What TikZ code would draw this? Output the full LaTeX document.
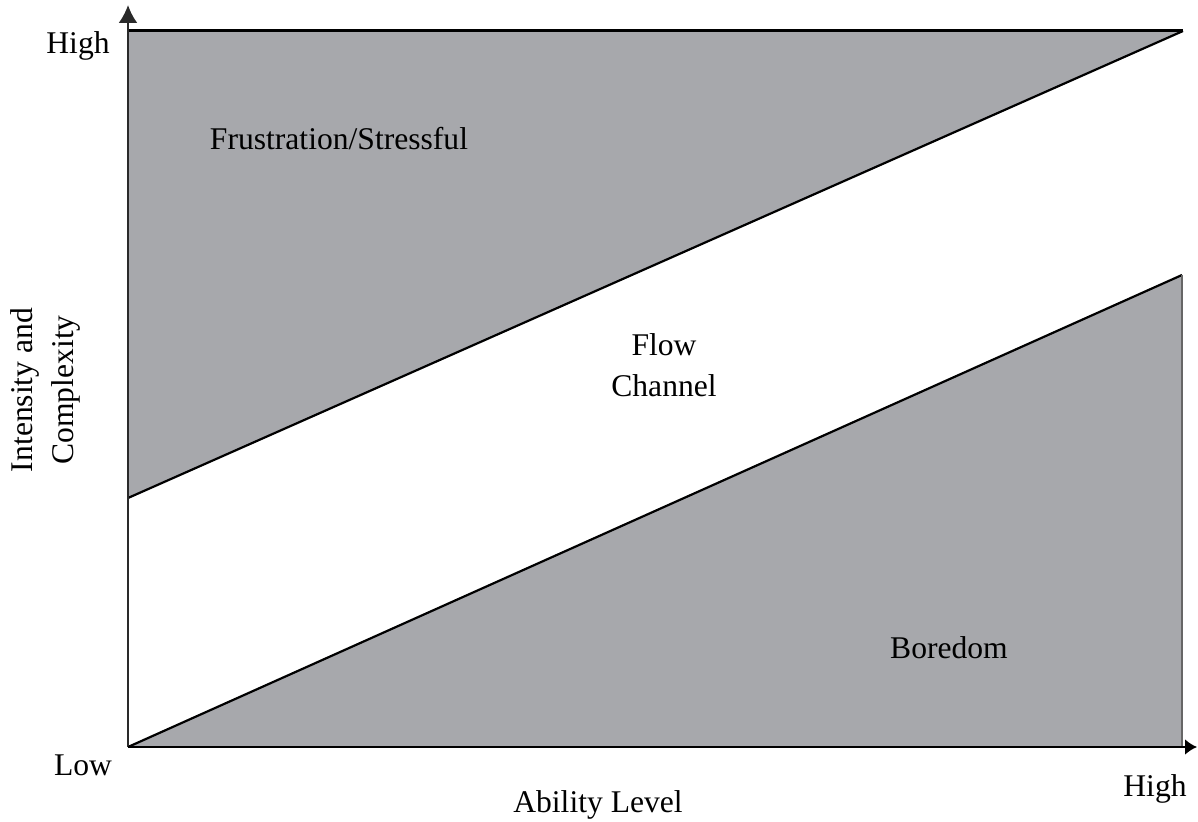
\documentclass[tikz,border=0pt]{standalone}
\usepackage{fontspec}
\setmainfont{Liberation Serif}
\usetikzlibrary{arrows.meta}
\definecolor{zonegray}{HTML}{A7A8AC}
\definecolor{axisdark}{HTML}{2A2A2A}
\begin{document}
\begin{tikzpicture}[x=0.5pt,y=-0.5pt,
  lbl/.style={inner sep=0pt,font=\fontsize{15.8pt}{20.5pt}\selectfont,align=center},
  zone/.style={fill=zonegray,draw=none},
  edge/.style={line width=1.1pt,black},
  axisline/.style={line width=1.2pt,axisdark},
]
\useasboundingbox (0,0) rectangle (1198,822);
% key points
\coordinate (O) at (128,747);
\coordinate (ytip) at (128,5);
\coordinate (xtip) at (1197,747);
\coordinate (TL) at (128,31);
\coordinate (TR) at (1183,31);
\coordinate (ML) at (128,498);
\coordinate (BR) at (1182,275);
\coordinate (BB) at (1182,747);
% shaded zones
\fill[zone] (TL) -- (TR) -- (ML) -- cycle;
\fill[zone] (O) -- (BR) -- (BB) -- cycle;
% zone borders
\draw[edge,line width=1.5pt] (TL) -- (TR);
\draw[edge] (TR) -- (ML);
\draw[edge] (O) -- (BR);
\draw[line width=1.1pt,gray!80!black] (BR) -- (BB);
% axes
\draw[axisline,-{Latex[length=9pt,width=9.5pt]}] (O) -- (ytip);
\draw[axisline,black,line width=1.4pt,-{Latex[length=6pt,width=8pt]}] (O) -- (xtip);
% labels
\node[lbl] (yhigh) at (78,46) {High};
\node[lbl] (ylow) at (83,765) {Low};
\node[lbl] (xhigh) at (1155,789) {High};
\node[lbl] (xlabel) at (598,805) {Ability Level};
\node[lbl,rotate=90] (ylabel) at (45,390) {Intensity and\\Complexity};
\node[lbl] (frus) at (339,139) {Frustration/Stressful};
\node[lbl] (flow) at (664,365) {Flow\\Channel};
\node[lbl] (bore) at (949,648) {Boredom};
\end{tikzpicture}
\end{document}
